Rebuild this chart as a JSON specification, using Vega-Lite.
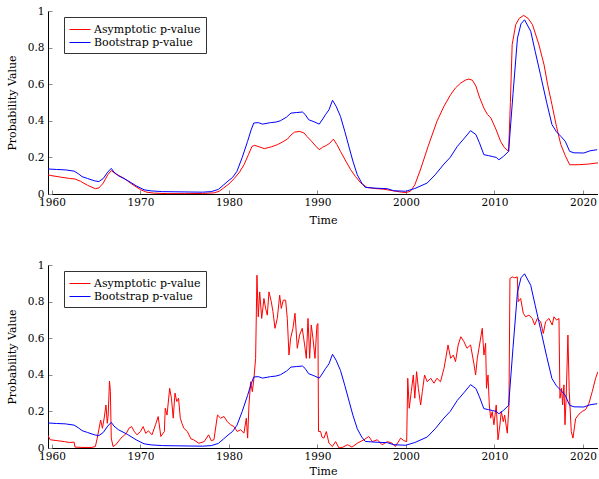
{
  "$schema": "https://vega.github.io/schema/vega-lite/v6.json",
  "padding": {"left": 6, "top": 6, "right": 0, "bottom": 0},
  "config": {
    "font": "DejaVu Serif",
    "view": {"stroke": null},
    "axis": {
      "grid": false, "domainColor": "#000000", "domainWidth": 1,
      "tickColor": "#8a8a8a", "tickSize": -4, "tickWidth": 1,
      "labelFont": "DejaVu Serif", "labelFontSize": 10.5, "labelColor": "#000000",
      "titleFont": "DejaVu Serif", "titleFontSize": 11, "titleFontWeight": "normal", "titleColor": "#000000",
      "labelFlush": false
    },
    "legend": {
      "strokeColor": "#333333", "fillColor": "#ffffff", "padding": 5,
      "symbolType": "M-1.5,0H1.5", "symbolSize": 196, "symbolStrokeWidth": 1, "symbolOffset": 3.5,
      "labelFont": "DejaVu Serif", "labelFontSize": 11, "labelColor": "#000000",
      "labelOffset": 6.5, "rowPadding": 0, "cornerRadius": 0
    }
  },
  "datasets": {
    "asy1": [
      {"t":1959.5,"p":0.105},{"t":1960.0,"p":0.1},{"t":1961.0,"p":0.092},{"t":1962.0,"p":0.085},{"t":1962.6,"p":0.082},
      {"t":1963.2,"p":0.07},{"t":1964.0,"p":0.048},{"t":1964.9,"p":0.029},{"t":1965.3,"p":0.033},{"t":1965.8,"p":0.06},
      {"t":1966.3,"p":0.105},{"t":1966.7,"p":0.128},{"t":1967.2,"p":0.11},{"t":1968.1,"p":0.087},{"t":1969.0,"p":0.055},
      {"t":1970.0,"p":0.024},{"t":1970.7,"p":0.01},{"t":1971.5,"p":0.005},{"t":1973.0,"p":0.002},{"t":1975.0,"p":0.002},
      {"t":1977.0,"p":0.003},{"t":1978.3,"p":0.006},{"t":1978.9,"p":0.015},{"t":1979.4,"p":0.033},{"t":1980.0,"p":0.055},
      {"t":1980.6,"p":0.085},{"t":1981.2,"p":0.12},{"t":1981.7,"p":0.16},{"t":1982.2,"p":0.215},{"t":1982.6,"p":0.26},
      {"t":1982.9,"p":0.266},{"t":1983.4,"p":0.258},{"t":1984.0,"p":0.248},{"t":1984.8,"p":0.258},{"t":1985.5,"p":0.27},
      {"t":1986.0,"p":0.283},{"t":1986.6,"p":0.3},{"t":1987.0,"p":0.322},{"t":1987.4,"p":0.338},{"t":1988.0,"p":0.342},
      {"t":1988.5,"p":0.333},{"t":1988.8,"p":0.315},{"t":1989.3,"p":0.29},{"t":1989.8,"p":0.262},{"t":1990.2,"p":0.242},
      {"t":1990.6,"p":0.256},{"t":1991.0,"p":0.265},{"t":1991.4,"p":0.278},{"t":1991.8,"p":0.3},{"t":1992.2,"p":0.27},
      {"t":1992.6,"p":0.233},{"t":1993.2,"p":0.18},{"t":1993.75,"p":0.133},{"t":1994.3,"p":0.095},{"t":1994.9,"p":0.06},
      {"t":1995.6,"p":0.036},{"t":1996.5,"p":0.03},{"t":1997.5,"p":0.026},{"t":1998.5,"p":0.018},{"t":1999.5,"p":0.01},
      {"t":2000.0,"p":0.008},{"t":2000.5,"p":0.015},{"t":2001.0,"p":0.05},{"t":2001.7,"p":0.142},{"t":2002.5,"p":0.26},
      {"t":2003.5,"p":0.397},{"t":2004.3,"p":0.48},{"t":2005.05,"p":0.543},{"t":2005.6,"p":0.58},{"t":2006.2,"p":0.607},
      {"t":2006.7,"p":0.622},{"t":2007.1,"p":0.628},{"t":2007.5,"p":0.622},{"t":2007.9,"p":0.59},{"t":2008.3,"p":0.53},
      {"t":2008.8,"p":0.47},{"t":2009.2,"p":0.435},{"t":2009.6,"p":0.415},{"t":2010.2,"p":0.35},{"t":2010.7,"p":0.287},
      {"t":2011.1,"p":0.255},{"t":2011.6,"p":0.233},{"t":2011.8,"p":0.5},{"t":2012.0,"p":0.816},{"t":2012.4,"p":0.925},
      {"t":2012.8,"p":0.96},{"t":2013.3,"p":0.976},{"t":2013.8,"p":0.96},{"t":2014.3,"p":0.925},{"t":2015.0,"p":0.82},
      {"t":2015.6,"p":0.707},{"t":2016.0,"p":0.6},{"t":2016.5,"p":0.488},{"t":2017.0,"p":0.37},{"t":2017.5,"p":0.27},
      {"t":2018.0,"p":0.21},{"t":2018.5,"p":0.16},{"t":2019.5,"p":0.16},{"t":2020.5,"p":0.163},{"t":2021.7,"p":0.17}
    ],
    "boot": [
      {"t":1959.5,"p":0.137},{"t":1960.5,"p":0.134},{"t":1961.5,"p":0.132},{"t":1962.5,"p":0.125},{"t":1963.0,"p":0.11},
      {"t":1963.4,"p":0.095},{"t":1964.0,"p":0.085},{"t":1964.8,"p":0.072},{"t":1965.3,"p":0.068},{"t":1965.8,"p":0.085},
      {"t":1966.3,"p":0.12},{"t":1966.7,"p":0.14},{"t":1967.0,"p":0.12},{"t":1967.5,"p":0.1},{"t":1968.5,"p":0.075},
      {"t":1969.5,"p":0.045},{"t":1970.4,"p":0.023},{"t":1971.2,"p":0.017},{"t":1972.5,"p":0.013},{"t":1974.0,"p":0.012},
      {"t":1975.5,"p":0.011},{"t":1977.0,"p":0.01},{"t":1978.0,"p":0.013},{"t":1978.8,"p":0.025},{"t":1979.4,"p":0.05},
      {"t":1980.0,"p":0.075},{"t":1980.4,"p":0.09},{"t":1980.9,"p":0.124},{"t":1981.5,"p":0.2},{"t":1982.1,"p":0.287},
      {"t":1982.5,"p":0.35},{"t":1982.8,"p":0.388},{"t":1983.3,"p":0.39},{"t":1983.8,"p":0.382},{"t":1984.7,"p":0.39},
      {"t":1985.3,"p":0.393},{"t":1985.8,"p":0.4},{"t":1986.5,"p":0.42},{"t":1987.0,"p":0.442},{"t":1987.6,"p":0.445},
      {"t":1988.3,"p":0.448},{"t":1988.6,"p":0.435},{"t":1989.0,"p":0.406},{"t":1989.6,"p":0.395},{"t":1990.2,"p":0.382},
      {"t":1990.6,"p":0.41},{"t":1990.9,"p":0.433},{"t":1991.3,"p":0.46},{"t":1991.7,"p":0.512},{"t":1992.1,"p":0.48},
      {"t":1992.6,"p":0.424},{"t":1993.1,"p":0.34},{"t":1993.6,"p":0.251},{"t":1994.0,"p":0.18},{"t":1994.5,"p":0.105},
      {"t":1995.0,"p":0.06},{"t":1995.4,"p":0.036},{"t":1996.5,"p":0.032},{"t":1997.9,"p":0.029},{"t":1998.6,"p":0.018},
      {"t":1999.97,"p":0.015},{"t":2001.0,"p":0.03},{"t":2002.4,"p":0.06},{"t":2003.3,"p":0.105},{"t":2004.3,"p":0.164},
      {"t":2005.0,"p":0.2},{"t":2005.8,"p":0.26},{"t":2006.6,"p":0.305},{"t":2007.3,"p":0.346},{"t":2007.9,"p":0.325},
      {"t":2008.3,"p":0.28},{"t":2008.8,"p":0.215},{"t":2009.3,"p":0.21},{"t":2009.75,"p":0.205},{"t":2010.2,"p":0.2},
      {"t":2010.5,"p":0.187},{"t":2011.0,"p":0.205},{"t":2011.6,"p":0.233},{"t":2012.1,"p":0.55},{"t":2012.6,"p":0.852},
      {"t":2013.0,"p":0.93},{"t":2013.4,"p":0.952},{"t":2014.1,"p":0.889},{"t":2014.6,"p":0.78},{"t":2015.2,"p":0.652},
      {"t":2015.9,"p":0.5},{"t":2016.5,"p":0.379},{"t":2017.0,"p":0.34},{"t":2017.5,"p":0.315},{"t":2018.0,"p":0.288},
      {"t":2018.5,"p":0.233},{"t":2019.0,"p":0.225},{"t":2020.1,"p":0.224},{"t":2020.8,"p":0.236},{"t":2021.6,"p":0.242}
    ],
    "asy2": [
      {"t":1959.5,"p":0.072},{"t":1959.8,"p":0.045},{"t":1960.6,"p":0.04},{"t":1961.4,"p":0.035},{"t":1962.0,"p":0.03},
      {"t":1962.5,"p":0.032},{"t":1962.6,"p":0.005},{"t":1963.5,"p":0.003},{"t":1964.5,"p":0.003},{"t":1964.9,"p":0.008},
      {"t":1965.1,"p":0.05},{"t":1965.5,"p":0.153},{"t":1965.7,"p":0.108},{"t":1965.9,"p":0.164},{"t":1966.1,"p":0.235},
      {"t":1966.25,"p":0.135},{"t":1966.35,"p":0.18},{"t":1966.5,"p":0.366},{"t":1966.6,"p":0.31},{"t":1966.7,"p":0.054},
      {"t":1966.9,"p":0.008},{"t":1967.2,"p":0.017},{"t":1967.8,"p":0.054},{"t":1968.4,"p":0.08},{"t":1968.7,"p":0.108},
      {"t":1969.0,"p":0.117},{"t":1969.3,"p":0.09},{"t":1969.6,"p":0.072},{"t":1970.0,"p":0.09},{"t":1970.3,"p":0.117},
      {"t":1970.6,"p":0.08},{"t":1970.9,"p":0.094},{"t":1971.3,"p":0.072},{"t":1971.7,"p":0.127},{"t":1972.0,"p":0.172},
      {"t":1972.3,"p":0.063},{"t":1972.7,"p":0.09},{"t":1972.8,"p":0.217},{"t":1973.0,"p":0.18},{"t":1973.3,"p":0.326},
      {"t":1973.5,"p":0.272},{"t":1973.7,"p":0.163},{"t":1973.9,"p":0.3},{"t":1974.1,"p":0.254},{"t":1974.3,"p":0.272},
      {"t":1974.5,"p":0.163},{"t":1974.7,"p":0.133},{"t":1974.9,"p":0.108},{"t":1975.3,"p":0.09},{"t":1975.7,"p":0.05},
      {"t":1976.0,"p":0.045},{"t":1976.6,"p":0.026},{"t":1977.2,"p":0.035},{"t":1977.7,"p":0.072},{"t":1978.0,"p":0.04},
      {"t":1978.3,"p":0.045},{"t":1978.7,"p":0.18},{"t":1979.06,"p":0.163},{"t":1979.44,"p":0.172},{"t":1979.81,"p":0.144},
      {"t":1980.19,"p":0.127},{"t":1980.56,"p":0.117},{"t":1980.94,"p":0.09},{"t":1981.32,"p":0.1},{"t":1981.69,"p":0.081},
      {"t":1981.96,"p":0.163},{"t":1982.11,"p":0.054},{"t":1982.26,"p":0.235},{"t":1982.45,"p":0.362},{"t":1982.64,"p":0.308},
      {"t":1982.82,"p":0.381},{"t":1983.01,"p":0.49},{"t":1983.16,"p":0.944},{"t":1983.31,"p":0.717},{"t":1983.47,"p":0.853},
      {"t":1983.7,"p":0.708},{"t":1983.95,"p":0.817},{"t":1984.14,"p":0.763},{"t":1984.33,"p":0.726},{"t":1984.52,"p":0.853},
      {"t":1984.78,"p":0.8},{"t":1984.97,"p":0.745},{"t":1985.2,"p":0.654},{"t":1985.46,"p":0.708},{"t":1985.73,"p":0.835},
      {"t":1985.91,"p":0.763},{"t":1986.14,"p":0.808},{"t":1986.4,"p":0.808},{"t":1986.59,"p":0.708},{"t":1986.78,"p":0.508},
      {"t":1986.97,"p":0.6},{"t":1987.23,"p":0.654},{"t":1987.46,"p":0.736},{"t":1987.72,"p":0.545},{"t":1987.98,"p":0.617},
      {"t":1988.28,"p":0.654},{"t":1988.55,"p":0.563},{"t":1988.74,"p":0.49},{"t":1988.93,"p":0.708},{"t":1989.12,"p":0.49},
      {"t":1989.3,"p":0.672},{"t":1989.49,"p":0.6},{"t":1989.72,"p":0.49},{"t":1989.94,"p":0.672},{"t":1990.05,"p":0.68},
      {"t":1990.12,"p":0.09},{"t":1990.36,"p":0.09},{"t":1990.5,"p":0.06},{"t":1990.73,"p":0.054},{"t":1991.0,"p":0.09},
      {"t":1991.3,"p":0.026},{"t":1991.68,"p":0.008},{"t":1992.05,"p":0.035},{"t":1992.43,"p":0.0},{"t":1992.8,"p":0.003},
      {"t":1993.4,"p":0.018},{"t":1993.9,"p":0.005},{"t":1994.5,"p":0.026},{"t":1995.25,"p":0.045},{"t":1995.8,"p":0.063},
      {"t":1996.2,"p":0.035},{"t":1996.76,"p":0.045},{"t":1997.3,"p":0.018},{"t":1997.9,"p":0.035},{"t":1998.45,"p":0.026},
      {"t":1998.8,"p":0.008},{"t":1999.4,"p":0.054},{"t":1999.77,"p":0.04},{"t":2000.08,"p":0.035},{"t":2000.2,"p":0.381},
      {"t":2000.37,"p":0.217},{"t":2000.6,"p":0.308},{"t":2000.83,"p":0.399},{"t":2001.0,"p":0.272},{"t":2001.2,"p":0.417},
      {"t":2001.4,"p":0.326},{"t":2001.66,"p":0.235},{"t":2001.85,"p":0.308},{"t":2002.1,"p":0.399},{"t":2002.4,"p":0.362},
      {"t":2002.8,"p":0.381},{"t":2003.16,"p":0.354},{"t":2003.5,"p":0.381},{"t":2003.9,"p":0.362},{"t":2004.3,"p":0.436},
      {"t":2004.5,"p":0.49},{"t":2004.75,"p":0.563},{"t":2005.05,"p":0.49},{"t":2005.35,"p":0.508},{"t":2005.6,"p":0.472},
      {"t":2005.9,"p":0.563},{"t":2006.2,"p":0.608},{"t":2006.55,"p":0.581},{"t":2006.9,"p":0.545},{"t":2007.3,"p":0.563},
      {"t":2007.7,"p":0.454},{"t":2007.87,"p":0.399},{"t":2008.06,"p":0.49},{"t":2008.25,"p":0.545},{"t":2008.62,"p":0.654},
      {"t":2008.81,"p":0.508},{"t":2009.0,"p":0.572},{"t":2009.1,"p":0.326},{"t":2009.27,"p":0.399},{"t":2009.42,"p":0.235},
      {"t":2009.57,"p":0.163},{"t":2009.75,"p":0.199},{"t":2009.94,"p":0.127},{"t":2010.2,"p":0.235},{"t":2010.4,"p":0.045},
      {"t":2010.62,"p":0.127},{"t":2010.77,"p":0.199},{"t":2011.0,"p":0.144},{"t":2011.15,"p":0.18},{"t":2011.45,"p":0.081},
      {"t":2011.64,"p":0.235},{"t":2011.75,"p":0.926},{"t":2012.0,"p":0.935},{"t":2012.3,"p":0.93},{"t":2012.58,"p":0.935},
      {"t":2012.69,"p":0.8},{"t":2012.96,"p":0.817},{"t":2013.26,"p":0.736},{"t":2013.52,"p":0.717},{"t":2013.9,"p":0.726},
      {"t":2014.28,"p":0.708},{"t":2014.54,"p":0.672},{"t":2014.84,"p":0.708},{"t":2015.22,"p":0.69},{"t":2015.52,"p":0.626},
      {"t":2015.78,"p":0.69},{"t":2016.16,"p":0.708},{"t":2016.53,"p":0.672},{"t":2016.72,"p":0.717},{"t":2017.02,"p":0.699},
      {"t":2017.29,"p":0.708},{"t":2017.4,"p":0.272},{"t":2017.59,"p":0.326},{"t":2017.7,"p":0.235},{"t":2017.85,"p":0.345},
      {"t":2017.97,"p":0.127},{"t":2018.1,"p":0.272},{"t":2018.3,"p":0.617},{"t":2018.45,"p":0.308},{"t":2018.68,"p":0.09},
      {"t":2018.87,"p":0.054},{"t":2019.17,"p":0.16},{"t":2019.55,"p":0.185},{"t":2019.92,"p":0.2},{"t":2020.3,"p":0.21},
      {"t":2020.68,"p":0.245},{"t":2021.05,"p":0.308},{"t":2021.43,"p":0.381},{"t":2021.69,"p":0.417}
    ]
  },
  "resolve": {"scale": {"color": "independent"}},
  "spacing": 34,
  "vconcat": [
    {
      "width": 550, "height": 183,
      "encoding": {
        "x": {"field": "t", "type": "quantitative",
              "scale": {"domain": [1959.55, 2021.7], "nice": false, "zero": false},
              "axis": {"values": [1960,1970,1980,1990,2000,2010,2020], "format": "d", "title": "Time", "labelPadding": 7, "titlePadding": 7}},
        "y": {"field": "p", "type": "quantitative",
              "scale": {"domain": [0, 1], "nice": false},
              "axis": {"values": [0,0.2,0.4,0.6,0.8,1], "format": "~g", "title": "Probability Value", "labelPadding": 8, "titlePadding": 10}}
      },
      "layer": [
        {"data": {"name": "asy1"}, "mark": {"type": "line", "strokeWidth": 1, "clip": true},
         "encoding": {"color": {"datum": "Asymptotic p-value", "type": "nominal",
            "scale": {"domain": ["Asymptotic p-value", "Bootstrap p-value"], "range": ["#ff0000", "#0000ff"]},
            "legend": {"title": null, "orient": "none", "legendX": 16, "legendY": 6}}}},
        {"data": {"name": "boot"}, "mark": {"type": "line", "strokeWidth": 1, "clip": true},
         "encoding": {"color": {"datum": "Bootstrap p-value", "type": "nominal",
            "scale": {"domain": ["Asymptotic p-value", "Bootstrap p-value"], "range": ["#ff0000", "#0000ff"]}}}}
      ]
    },
    {
      "width": 550, "height": 183,
      "encoding": {
        "x": {"field": "t", "type": "quantitative",
              "scale": {"domain": [1959.55, 2021.7], "nice": false, "zero": false},
              "axis": {"values": [1960,1970,1980,1990,2000,2010,2020], "format": "d", "title": "Time", "labelPadding": 7, "titlePadding": 4}},
        "y": {"field": "p", "type": "quantitative",
              "scale": {"domain": [0, 1], "nice": false},
              "axis": {"values": [0,0.2,0.4,0.6,0.8,1], "format": "~g", "title": "Probability Value", "labelPadding": 8, "titlePadding": 10}}
      },
      "layer": [
        {"data": {"name": "asy2"}, "mark": {"type": "line", "strokeWidth": 1, "clip": true},
         "encoding": {"color": {"datum": "Asymptotic p-value", "type": "nominal",
            "scale": {"domain": ["Asymptotic p-value", "Bootstrap p-value"], "range": ["#ff0000", "#0000ff"]},
            "legend": {"title": null, "orient": "none", "legendX": 16, "legendY": 6}}}},
        {"data": {"name": "boot"}, "mark": {"type": "line", "strokeWidth": 1, "clip": true},
         "encoding": {"color": {"datum": "Bootstrap p-value", "type": "nominal",
            "scale": {"domain": ["Asymptotic p-value", "Bootstrap p-value"], "range": ["#ff0000", "#0000ff"]}}}}
      ]
    }
  ]
}
